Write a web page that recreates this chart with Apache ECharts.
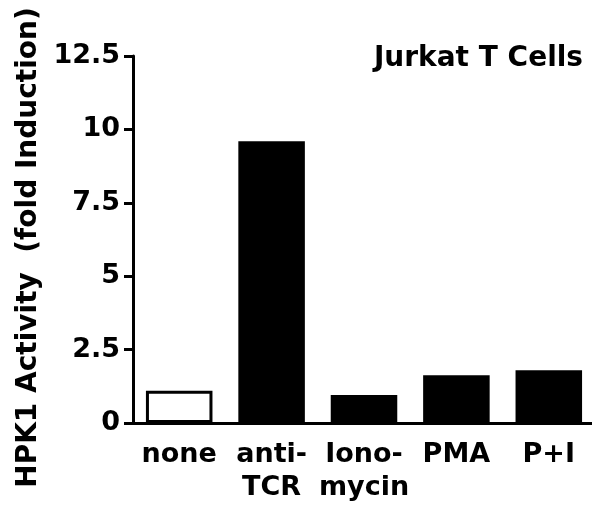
<!DOCTYPE html>
<html>
<head>
<meta charset="utf-8">
<script src="https://cdn.jsdelivr.net/npm/echarts@6/dist/echarts.min.js"></script>
<style>
    html, body { margin: 0; padding: 0; background: #fff; }
    #main { width: 592px; height: 507px; }
</style>
</head>
<body>
<div id="main"></div>
<script>
var categories = ['none', 'anti-\nTCR', 'Iono-\nmycin', 'PMA', 'P+I'];
var activity = [1.1, 9.6, 0.95, 1.63, 1.8];
var yTicks = ['0', '2.5', '5', '7.5', '10', '12.5'];

var FONT = '"DejaVu Sans", sans-serif';

var myChart = echarts.init(document.getElementById('main'));

var option = {
    backgroundColor: '#fff',
    animation: false,
    title: {
        text: 'Jurkat T Cells',
        right: 4,
        top: 40,
        textStyle: {
            color: '#000',
            fontFamily: FONT,
            fontWeight: 'bold',
            fontSize: 28
        }
    },
    grid: {
        left: 133,
        top: 56,
        width: 462,
        height: 367,
        containLabel: false,
        outerBoundsMode: 'none'
    },
    xAxis: {
        type: 'category',
        data: categories,
        axisLine: { lineStyle: { color: '#000', width: 3 } },
        axisTick: { alignWithLabel: true, length: 7, lineStyle: { color: '#000', width: 3 } },
        axisLabel: {
            interval: 0,
            hideOverlap: false,
            color: '#000',
            fontFamily: FONT,
            fontWeight: 'bold',
            fontSize: 27,
            lineHeight: 33,
            margin: 15
        }
    },
    yAxis: {
        type: 'value',
        min: 0,
        max: 12.5,
        interval: 2.5,
        name: 'HPK1 Activity  (fold Induction)',
        nameLocation: 'middle',
        nameGap: 86,
        nameTextStyle: {
            color: '#000',
            fontFamily: FONT,
            fontWeight: 'bold',
            fontSize: 28,
            padding: [0, 16, 0, 0]
        },
        axisLine: { show: true, lineStyle: { color: '#000', width: 3 } },
        axisTick: { show: true, length: 9, lineStyle: { color: '#000', width: 3 } },
        splitLine: { show: false },
        axisLabel: {
            color: '#000',
            fontFamily: FONT,
            fontWeight: 'bold',
            fontSize: 27,
            margin: 13,
            formatter: function (v) {
                return yTicks[Math.round(v / 2.5)];
            }
        }
    },
    series: [{
        type: 'bar',
        barWidth: '72%',
        data: activity.map(function (v, i) {
            if (i === 0) {
                return { value: v, itemStyle: { color: '#fff', borderColor: '#000', borderWidth: 3 } };
            }
            return { value: v, itemStyle: { color: '#000' } };
        })
    }]
};
myChart.setOption(option);
</script>
</body>
</html>
